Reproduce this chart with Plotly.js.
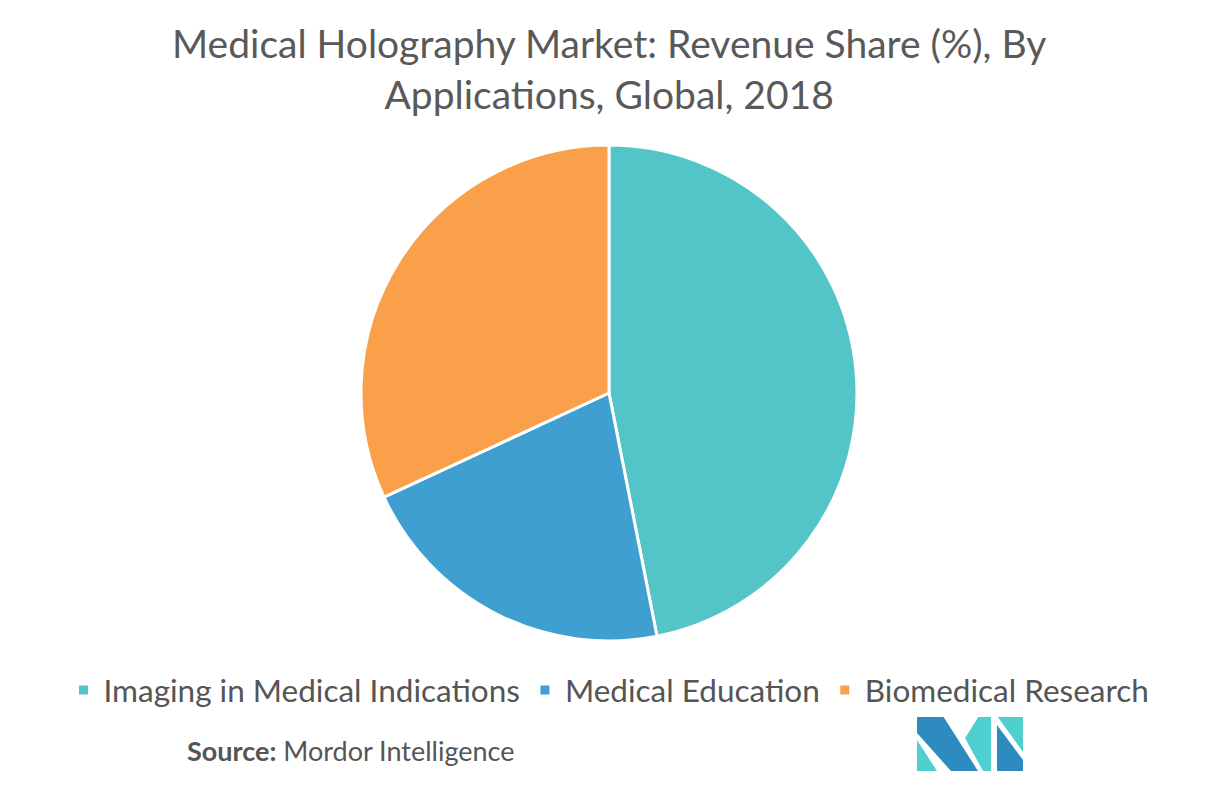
<!DOCTYPE html>
<html>
<head>
<meta charset="utf-8">
<script src="https://cdn.plot.ly/plotly-3.0.1.min.js"></script>
<style>html,body{margin:0;padding:0;background:#fff;}#chart{width:1218px;height:785px;}</style>
</head>
<body>
<div id="chart"></div>
<script>
const categories = ["Imaging in Medical Indications", "Medical Education", "Biomedical Research"];
const shares = [46.9, 21.2, 31.9];
const colors = ["#53C4C7", "#3E9FD0", "#FBA04A"];
const titleText = "Medical Holography Market: Revenue Share (%), By<br>Applications, Global, 2018";
const sourceText = "<b>Source:</b> Mordor Intelligence";

const W = 1218, H = 785;
const px = x => x / W;
const py = y => 1 - y / H;
function poly(pts, color) {
  let d = pts.map((p, i) => (i ? "L" : "M") + px(p[0]) + "," + py(p[1])).join(" ") + " Z";
  return {type: "path", xref: "paper", yref: "paper", path: d, fillcolor: color, line: {width: 0}};
}
const dark = "#2E8BC0", light = "#4FCFD0";
const shapes = [
  poly([[917,716],[943,716],[978,771],[951,771],[917,733]], dark),
  poly([[917,740],[917,771],[937,771]], light),
  poly([[965,738],[979,716],[991,716],[991,771],[983,771]], light),
  poly([[997,716],[1023,716],[1023,752]], light),
  poly([[997,725],[1023,760],[1023,771],[997,771]], dark)
];

const data = [{
  type: "pie",
  labels: categories,
  values: shares,
  marker: {colors: colors, line: {color: "#ffffff", width: 3}},
  sort: false,
  direction: "clockwise",
  rotation: 0,
  textinfo: "none",
  hoverinfo: "skip",
  domain: {x: [px(361), px(857)], y: [py(641), py(145)]}
}];

const layout = {
  width: W, height: H,
  margin: {l: 0, r: 0, t: 0, b: 0},
  paper_bgcolor: "#ffffff",
  font: {family: "Lato, sans-serif", color: "#555555"},
  showlegend: true,
  legend: {
    orientation: "h", x: 0.5, xanchor: "center", y: py(690), yanchor: "middle",
    font: {family: "Lato, sans-serif", size: 31.5, color: "#555555"},
    itemclick: false, itemdoubleclick: false
  },
  annotations: [{
    text: titleText,
    xref: "paper", yref: "paper", x: 0.5, y: py(69), xanchor: "center", yanchor: "middle",
    showarrow: false, font: {family: "Lato, sans-serif", size: 39, color: "#595959"}
  }, {
    text: sourceText,
    xref: "paper", yref: "paper", x: px(185), y: py(750), xanchor: "left", yanchor: "middle",
    showarrow: false, font: {family: "Lato, sans-serif", size: 27, color: "#555555"}
  }],
  shapes: shapes
};

Plotly.newPlot("chart", data, layout, {displayModeBar: false, staticPlot: true});
</script>
</body>
</html>
